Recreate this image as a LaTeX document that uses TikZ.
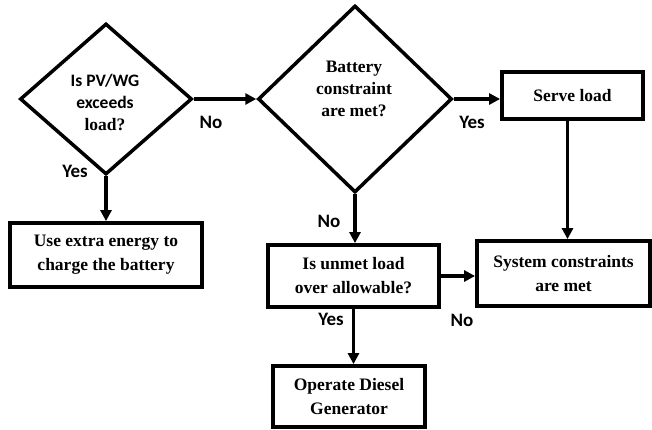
\documentclass[tikz,border=0pt]{standalone}
\usepackage{fontspec}
\setmainfont{Liberation Serif}
\newfontfamily\lblfont{Carlito}
\usetikzlibrary{shapes.geometric,arrows.meta}
\tikzset{
  box/.style={draw, line width=3.8pt, rectangle, inner sep=0pt, align=center,
    font=\fontsize{17.5}{24}\selectfont\bfseries},
  dec/.style={draw, line width=3.5pt, diamond, inner sep=0pt},
  dectext/.style={align=center, inner sep=0pt, font=\fontsize{17.5}{22}\selectfont\bfseries},
  conn/.style={line width=3.3pt, -{Triangle[length=11pt,width=11pt]}},
  lbl/.style={font=\lblfont\fontsize{19}{20}\selectfont\bfseries, inner sep=0pt}
}
\begin{document}
\begin{tikzpicture}[x=1pt,y=-1pt]
\useasboundingbox (0,0) rectangle (652,429);
\node[dec, minimum width=172pt, minimum height=151pt] (d1) at (106,99) {};
\node[dectext] (d1t) at (105,102)
  {{\lblfont Is PV/WG}\\{\lblfont exceeds}\\load?};
\node[dec, minimum width=194pt, minimum height=187pt] (d2) at (355,99) {};
\node[dectext] (d2t) at (354,89) {Battery\\constraint\\are met?};
\node[box, minimum width=141pt, minimum height=47pt] (serve) at (572.5,95.5) {Serve load};
\node[box, minimum width=192pt, minimum height=64pt] (charge) at (106,255) {Use extra energy to\\charge the battery};
\node[box, minimum width=171pt, minimum height=62pt] (unmet) at (353.5,276) {Is unmet load\\over allowable?};
\node[box, minimum width=173pt, minimum height=65pt] (sys) at (563.5,273.5) {System constraints\\are met};
\node[box, minimum width=152pt, minimum height=61pt] (diesel) at (349,396.5) {Operate Diesel\\Generator};

\draw[conn] (d1.east) -- (d2.west);
\draw[conn] (d1.south) -- (charge.north);
\draw[conn] (d2.east) -- (d2.east -| serve.west);
\draw[conn] ([xshift=-5pt]serve.south) -- ([xshift=-5pt]serve.south |- sys.north);
\draw[conn] (d2.south) -- (d2.south |- unmet.north);
\draw[conn] (unmet.east) -- (unmet.east -| sys.west);
\draw[conn] (unmet.south) -- (unmet.south |- diesel.north);

\node[lbl] (y1) at (75,171) {Yes};
\node[lbl] (n1) at (211,122) {No};
\node[lbl] (y2) at (472,122) {Yes};
\node[lbl] (n2) at (329,221) {No};
\node[lbl] (y3) at (331,319) {Yes};
\node[lbl] (n3) at (462,320) {No};
\end{tikzpicture}
\end{document}
